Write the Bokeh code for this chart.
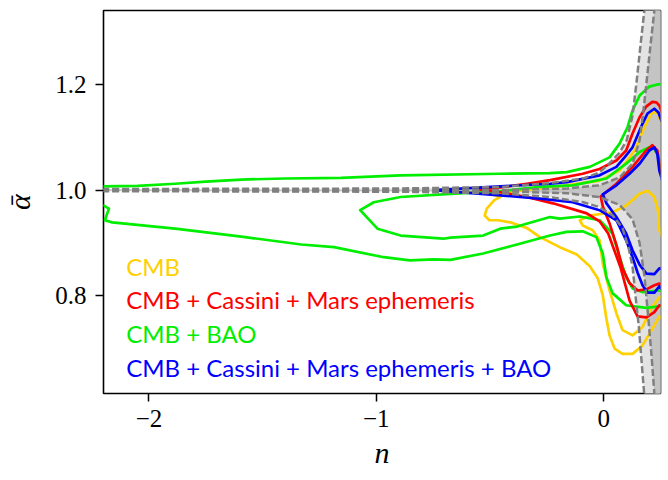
from bokeh.plotting import figure
from bokeh.models import Range1d, FixedTicker
from bokeh.core.properties import value
from bokeh.embed import file_html
from bokeh.resources import INLINE

# ---------------- data (n, alpha-bar) ----------------
# theoretical band: dashed boundaries
band_uo_n = [-2.25, -0.9, -0.45, -0.24, -0.09, -0.02, 0.026, 0.07, 0.101, 0.127, 0.144, 0.162, 0.179, 0.185]
band_uo_a = [1.002, 1.003, 1.006, 1.013, 1.022, 1.033, 1.051, 1.071, 1.094, 1.141, 1.202, 1.274, 1.34, 1.40]
band_lo_n = [-2.25, -0.9, -0.45, -0.24, -0.09, -0.02, 0.04, 0.083, 0.11, 0.127, 0.14, 0.155, 0.166, 0.178, 0.185]
band_lo_a = [0.998, 0.997, 0.994, 0.987, 0.977, 0.968, 0.952, 0.928, 0.89, 0.855, 0.80, 0.74, 0.68, 0.615, 0.55]
band_ui_n = [-2.25, -0.45, -0.16, -0.02, 0.07, 0.127, 0.158, 0.175, 0.188, 0.206, 0.223, 0.23]
band_ui_a = [1.001, 1.0, 1.003, 1.009, 1.024, 1.050, 1.094, 1.151, 1.202, 1.274, 1.34, 1.40]
band_li_n = [-2.25, -0.45, -0.16, -0.02, 0.07, 0.127, 0.158, 0.18, 0.197, 0.21, 0.223, 0.23]
band_li_a = [0.999, 0.998, 0.994, 0.987, 0.972, 0.945, 0.90, 0.835, 0.755, 0.69, 0.615, 0.55]

# CMB (yellow)
cmb_outer_n = [-0.499, -0.368, -0.193, -0.018, 0.070, 0.136, 0.179, 0.210, 0.232, 0.245, 0.28, 0.28,
               0.245, 0.214, 0.171, 0.127, 0.083, 0.048, 0.026, 0.012, -0.004, -0.026, -0.061, -0.118,
               -0.193, -0.280, -0.337, -0.411, -0.464, -0.503, -0.523, -0.514, -0.481, -0.455]
cmb_outer_a = [0.993, 0.999, 1.007, 1.018, 1.037, 1.075, 1.119, 1.145, 1.149, 1.137, 1.10, 0.75,
               0.761, 0.737, 0.706, 0.690, 0.690, 0.700, 0.725, 0.757, 0.801, 0.833, 0.856, 0.878,
               0.892, 0.911, 0.928, 0.939, 0.943, 0.943, 0.952, 0.965, 0.981, 0.987]
cmb_inner_n = [-0.105, -0.061, 0.039, 0.099, 0.158, 0.193, 0.223, 0.239, 0.245, 0.27, 0.27,
               0.245, 0.214, 0.171, 0.127, 0.083, 0.056, 0.026, -0.004, -0.018, -0.048, -0.092]
cmb_inner_a = [0.943, 0.952, 0.958, 0.971, 0.993, 0.999, 0.987, 0.962, 0.924, 0.90, 0.80,
               0.797, 0.779, 0.741, 0.725, 0.735, 0.767, 0.810, 0.861, 0.905, 0.924, 0.933]

# CMB + Cassini + Mars ephemeris (red)
ccm_outer_n = [-0.543, -0.455, -0.338, -0.236, -0.092, -0.018, 0.056, 0.099, 0.127, 0.158, 0.187, 0.214,
               0.232, 0.245, 0.28, 0.28, 0.245, 0.223, 0.188, 0.149, 0.114, 0.074, 0.020, -0.018,
               -0.074, -0.223, -0.338, -0.455]
ccm_outer_a = [1.001, 1.005, 1.012, 1.019, 1.031, 1.040, 1.056, 1.075, 1.107, 1.138, 1.158, 1.167,
               1.166, 1.160, 1.12, 0.78, 0.782, 0.769, 0.759, 0.761, 0.791, 0.854, 0.918, 0.941,
               0.956, 0.975, 0.987, 0.996]
ccm_inner_n = [-0.013, 0.056, 0.127, 0.187, 0.214, 0.236, 0.245, 0.27, 0.27,
               0.245, 0.223, 0.188, 0.149, 0.114, 0.083, 0.057, 0.026, -0.003]
ccm_inner_a = [0.988, 1.012, 1.044, 1.075, 1.085, 1.075, 1.051, 1.0, 0.82,
               0.823, 0.820, 0.812, 0.810, 0.824, 0.852, 0.895, 0.937, 0.968]

# CMB + BAO (green)
bao_outer_n = [-2.25, -2.20, -2.05, -1.885, -1.75, -1.593, -1.40, -1.155, -0.893, -0.455, -0.236, -0.162,
               -0.061, 0.026, 0.070, 0.105, 0.127, 0.158, 0.201, 0.236, 0.30, 0.30,
               0.245, 0.187, 0.099, 0.039, 0.012, -0.004, -0.032, -0.092, -0.163, -0.236, -0.381,
               -0.530, -0.674, -0.748, -0.853, -0.967, -1.186, -1.330, -1.593, -1.885, -2.162,
               -2.194, -2.176, -2.201, -2.25]
bao_outer_a = [1.006, 1.007, 1.008, 1.012, 1.016, 1.020, 1.022, 1.023, 1.028, 1.031, 1.032, 1.034,
               1.044, 1.062, 1.088, 1.119, 1.151, 1.179, 1.196, 1.200, 1.20, 0.78,
               0.780, 0.777, 0.782, 0.805, 0.835, 0.880, 0.911, 0.922, 0.921, 0.914, 0.897,
               0.880, 0.868, 0.869, 0.867, 0.873, 0.892, 0.897, 0.912, 0.927, 0.939,
               0.943, 0.965, 0.971, 0.975]
bao_inner_n = [-1.071, -1.011, -0.893, -0.674, -0.455, -0.280, -0.136, 0.012, 0.099, 0.158, 0.201, 0.223,
               0.238, 0.245, 0.27, 0.27, 0.245, 0.171, 0.127, 0.099, 0.070, 0.039, -0.018, -0.105,
               -0.193, -0.236, -0.381, -0.455, -0.530, -0.674, -0.705, -0.893, -0.995]
bao_inner_a = [0.962, 0.977, 0.987, 0.993, 0.998, 1.006, 1.009, 1.022, 1.050, 1.072, 1.081, 1.078,
               1.066, 1.047, 1.0, 0.81, 0.810, 0.807, 0.814, 0.835, 0.873, 0.918, 0.943, 0.950,
               0.946, 0.949, 0.931, 0.927, 0.914, 0.910, 0.908, 0.914, 0.927]

# CMB + Cassini + Mars ephemeris + BAO (blue)
all_outer_n = [-0.748, -0.455, -0.236, -0.162, -0.018, 0.056, 0.092, 0.127, 0.171, 0.193, 0.223, 0.241,
               0.25, 0.28, 0.28, 0.245, 0.223, 0.193, 0.171, 0.149, 0.127, 0.099, 0.056, -0.018,
               -0.136, -0.280, -0.455]
all_outer_a = [1.0, 1.007, 1.012, 1.015, 1.028, 1.044, 1.062, 1.081, 1.126, 1.145, 1.154, 1.147,
               1.136, 1.10, 0.80, 0.818, 0.806, 0.806, 0.820, 0.844, 0.873, 0.905, 0.943, 0.962,
               0.977, 0.984, 0.990]
all_inner_n = [-0.004, 0.056, 0.114, 0.158, 0.201, 0.223, 0.236, 0.245, 0.27, 0.27,
               0.245, 0.223, 0.188, 0.158, 0.127, 0.099, 0.056, 0.012]
all_inner_a = [0.992, 1.009, 1.031, 1.050, 1.075, 1.081, 1.069, 1.037, 1.0, 0.85,
               0.852, 0.841, 0.842, 0.859, 0.886, 0.918, 0.949, 0.975]

legend_labels = ["CMB", "CMB + Cassini + Mars ephemeris", "CMB + BAO",
                 "CMB + Cassini + Mars ephemeris + BAO"]
x_ticks = [-2, -1, 0]
x_tick_labels = ["\u22122", "\u22121", "0"]
y_ticks = [0.8, 1.0, 1.2]
y_tick_labels = ["0.8", "1.0", "1.2"]

YELLOW = "#ffd000"
RED = "#ff0000"
GREEN = "#00ee00"
BLUE = "#0000ff"

p = figure(width=668, height=480, x_range=Range1d(-2.2, 0.25), y_range=Range1d(0.615, 1.34),
           output_backend="svg", toolbar_location=None,
           min_border_left=101, min_border_right=8, min_border_top=10, min_border_bottom=87)
p.background_fill_color = "white"
p.border_fill_color = "white"
p.outline_line_color = "black"
p.outline_line_width = 1.6
p.xgrid.visible = False
p.ygrid.visible = False

# shaded theoretical band
light_x = band_uo_n + [0.35, 0.35] + band_lo_n[::-1]
light_y = band_uo_a + [1.40, 0.55] + band_lo_a[::-1]
dark_x = band_ui_n + [0.35, 0.35] + band_li_n[::-1]
dark_y = band_ui_a + [1.40, 0.55] + band_li_a[::-1]
p.patch(light_x, light_y, fill_color="#e3e3e3", line_color=None)
p.patch(dark_x, dark_y, fill_color="#c4c4c4", line_color=None)

# contours
lw = 2.7
for xs, ys, c in [(cmb_outer_n, cmb_outer_a, YELLOW), (cmb_inner_n, cmb_inner_a, YELLOW),
                  (bao_outer_n, bao_outer_a, GREEN), (bao_inner_n, bao_inner_a, GREEN),
                  (ccm_outer_n, ccm_outer_a, RED), (ccm_inner_n, ccm_inner_a, RED),
                  (all_outer_n, all_outer_a, BLUE), (all_inner_n, all_inner_a, BLUE)]:
    p.patch(xs, ys, fill_color=None, line_color=c, line_width=lw, line_join="round")

# dashed boundaries
for xs, ys in [(band_uo_n, band_uo_a), (band_lo_n, band_lo_a), (band_ui_n, band_ui_a), (band_li_n, band_li_a)]:
    p.line(xs, ys, line_color="#808080", line_width=2.5, line_dash="7 3")

# legend-like labels
p.text(x=[-2.1] * 4, y=[0.856, 0.793, 0.729, 0.665], text=legend_labels,
       text_color=[YELLOW, RED, GREEN, BLUE], text_font=value("Lato"),
       text_font_size="24px", text_baseline="alphabetic", text_align="left")

# axes
for ax in (p.xaxis[0], p.yaxis[0]):
    ax.axis_line_color = None
    ax.major_tick_line_color = "black"
    ax.major_tick_line_width = 1.5
    ax.major_tick_out = 8
    ax.major_tick_in = 0
    ax.minor_tick_line_color = None
    ax.major_label_text_font = "Liberation Serif"
    ax.major_label_text_font_size = "25px"
    ax.major_label_text_color = "black"
    ax.axis_label_text_font = "Liberation Serif"
    ax.axis_label_text_font_style = "italic"
    ax.axis_label_text_font_size = "30px"
    ax.axis_label_text_color = "black"

p.xaxis.ticker = FixedTicker(ticks=x_ticks)
p.xaxis.major_label_overrides = dict(zip(x_ticks, x_tick_labels))
p.yaxis.ticker = FixedTicker(ticks=y_ticks)
p.yaxis.major_label_overrides = dict(zip(y_ticks, y_tick_labels))
p.xaxis.axis_label = "n"
p.yaxis.axis_label = "\u1fb1"
p.xaxis.major_label_standoff = 8
p.yaxis.major_label_standoff = 9
p.xaxis.axis_label_standoff = 6
p.yaxis.axis_label_standoff = 16

open("out.html", "w").write(file_html(p, INLINE))
